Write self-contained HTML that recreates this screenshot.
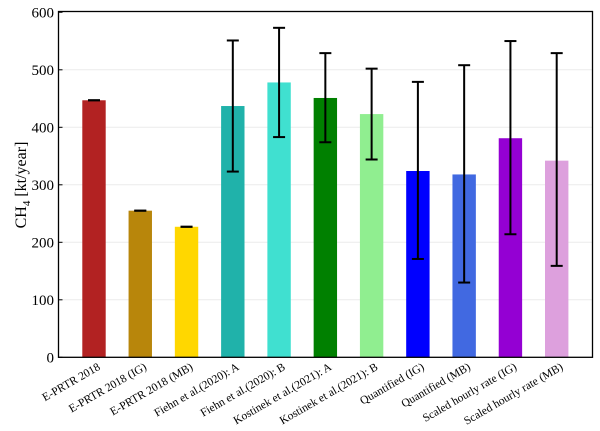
<!DOCTYPE html>
<html><head><meta charset="utf-8"><style>
body{margin:0;background:#fff;}
svg{display:block;font-family:"Liberation Serif",serif;}
</style></head><body>
<svg id="chart" width="600" height="431">
<g id="grid"></g>
<g id="bars"></g>
<g id="errs"></g>
<rect x="58.5" y="11.5" width="534" height="345.8" fill="none" stroke="#000" stroke-width="1.3"/>
<g id="yticks"></g>
<g id="xlabels"></g>
<text transform="translate(26,185) rotate(-90)" text-anchor="middle" font-size="16">CH<tspan font-size="11" dy="4">4</tspan><tspan dy="-4"> [kt/year]</tspan></text>
</svg>
<script>
const categories=["E-PRTR 2018","E-PRTR 2018 (IG)","E-PRTR 2018 (MB)","Fiehn et al.(2020): A","Fiehn et al.(2020): B","Kostinek et al.(2021): A","Kostinek et al.(2021): B","Quantified (IG)","Quantified (MB)","Scaled hourly rate (IG)","Scaled hourly rate (MB)"];
const values=[447,255,227,437,478,451,423,324,318,381,342];
const errLow=[447,255,227,323,383,374,344,171,130,214,159];
const errHigh=[447,255,227,551,573,529,502,479,508,550,529];
const colors=["#b22222","#b8860b","#ffd700","#20b2aa","#40e0d0","#008000","#90ee90","#0000ff","#4169e1","#9400d3","#dda0dd"];
const yTicks=[0,100,200,300,400,500,600];
const NS="http://www.w3.org/2000/svg";
const y0=357.3,yTop=12.3,yMax=600;
function y(v){return y0-(v/yMax)*(y0-yTop);}
function x(i){return 94+i*46.27;}
const bw=23.4;
function mk(t,a,p){const e=document.createElementNS(NS,t);for(const k in a)e.setAttribute(k,a[k]);p.appendChild(e);return e;}
const grid=document.getElementById('grid'),yt=document.getElementById('yticks');
yTicks.forEach(t=>{
 if(t>0&&t<600){const l=mk('line',{x1:58.5,x2:592.5,y1:y(t),y2:y(t),stroke:'#ececec','stroke-width':1},grid);
 
 }
 const tk=mk('line',{x1:58.5,x2:62.5,y1:y(t),y2:y(t),stroke:'#000','stroke-width':1},yt);
 
 
 const tx=mk('text',{x:54,y:y(t)+5,'text-anchor':'end','font-size':15},yt);tx.textContent=t;
 
 
});
const bars=document.getElementById('bars'),errs=document.getElementById('errs'),xl=document.getElementById('xlabels');
categories.forEach((c,i)=>{
 const r=mk('rect',{x:x(i)-bw/2,y:y(values[i]),width:bw,height:y0-y(values[i]),fill:colors[i]},bars);
 
 
 const g=mk('g',{stroke:'#000','stroke-width':2},errs);
 
 
 mk('line',{x1:x(i),x2:x(i),y1:y(errLow[i]),y2:y(errHigh[i])},g);
 mk('line',{x1:x(i)-6,x2:x(i)+6,y1:y(errLow[i]),y2:y(errLow[i])},g);
 mk('line',{x1:x(i)-6,x2:x(i)+6,y1:y(errHigh[i]),y2:y(errHigh[i])},g);
 const t=mk('text',{transform:`translate(${x(i)+7},${369}) rotate(-30)`,'text-anchor':'end','font-size':11.5},xl);
 t.textContent=c;
 
 
});
</script>
</body></html>
